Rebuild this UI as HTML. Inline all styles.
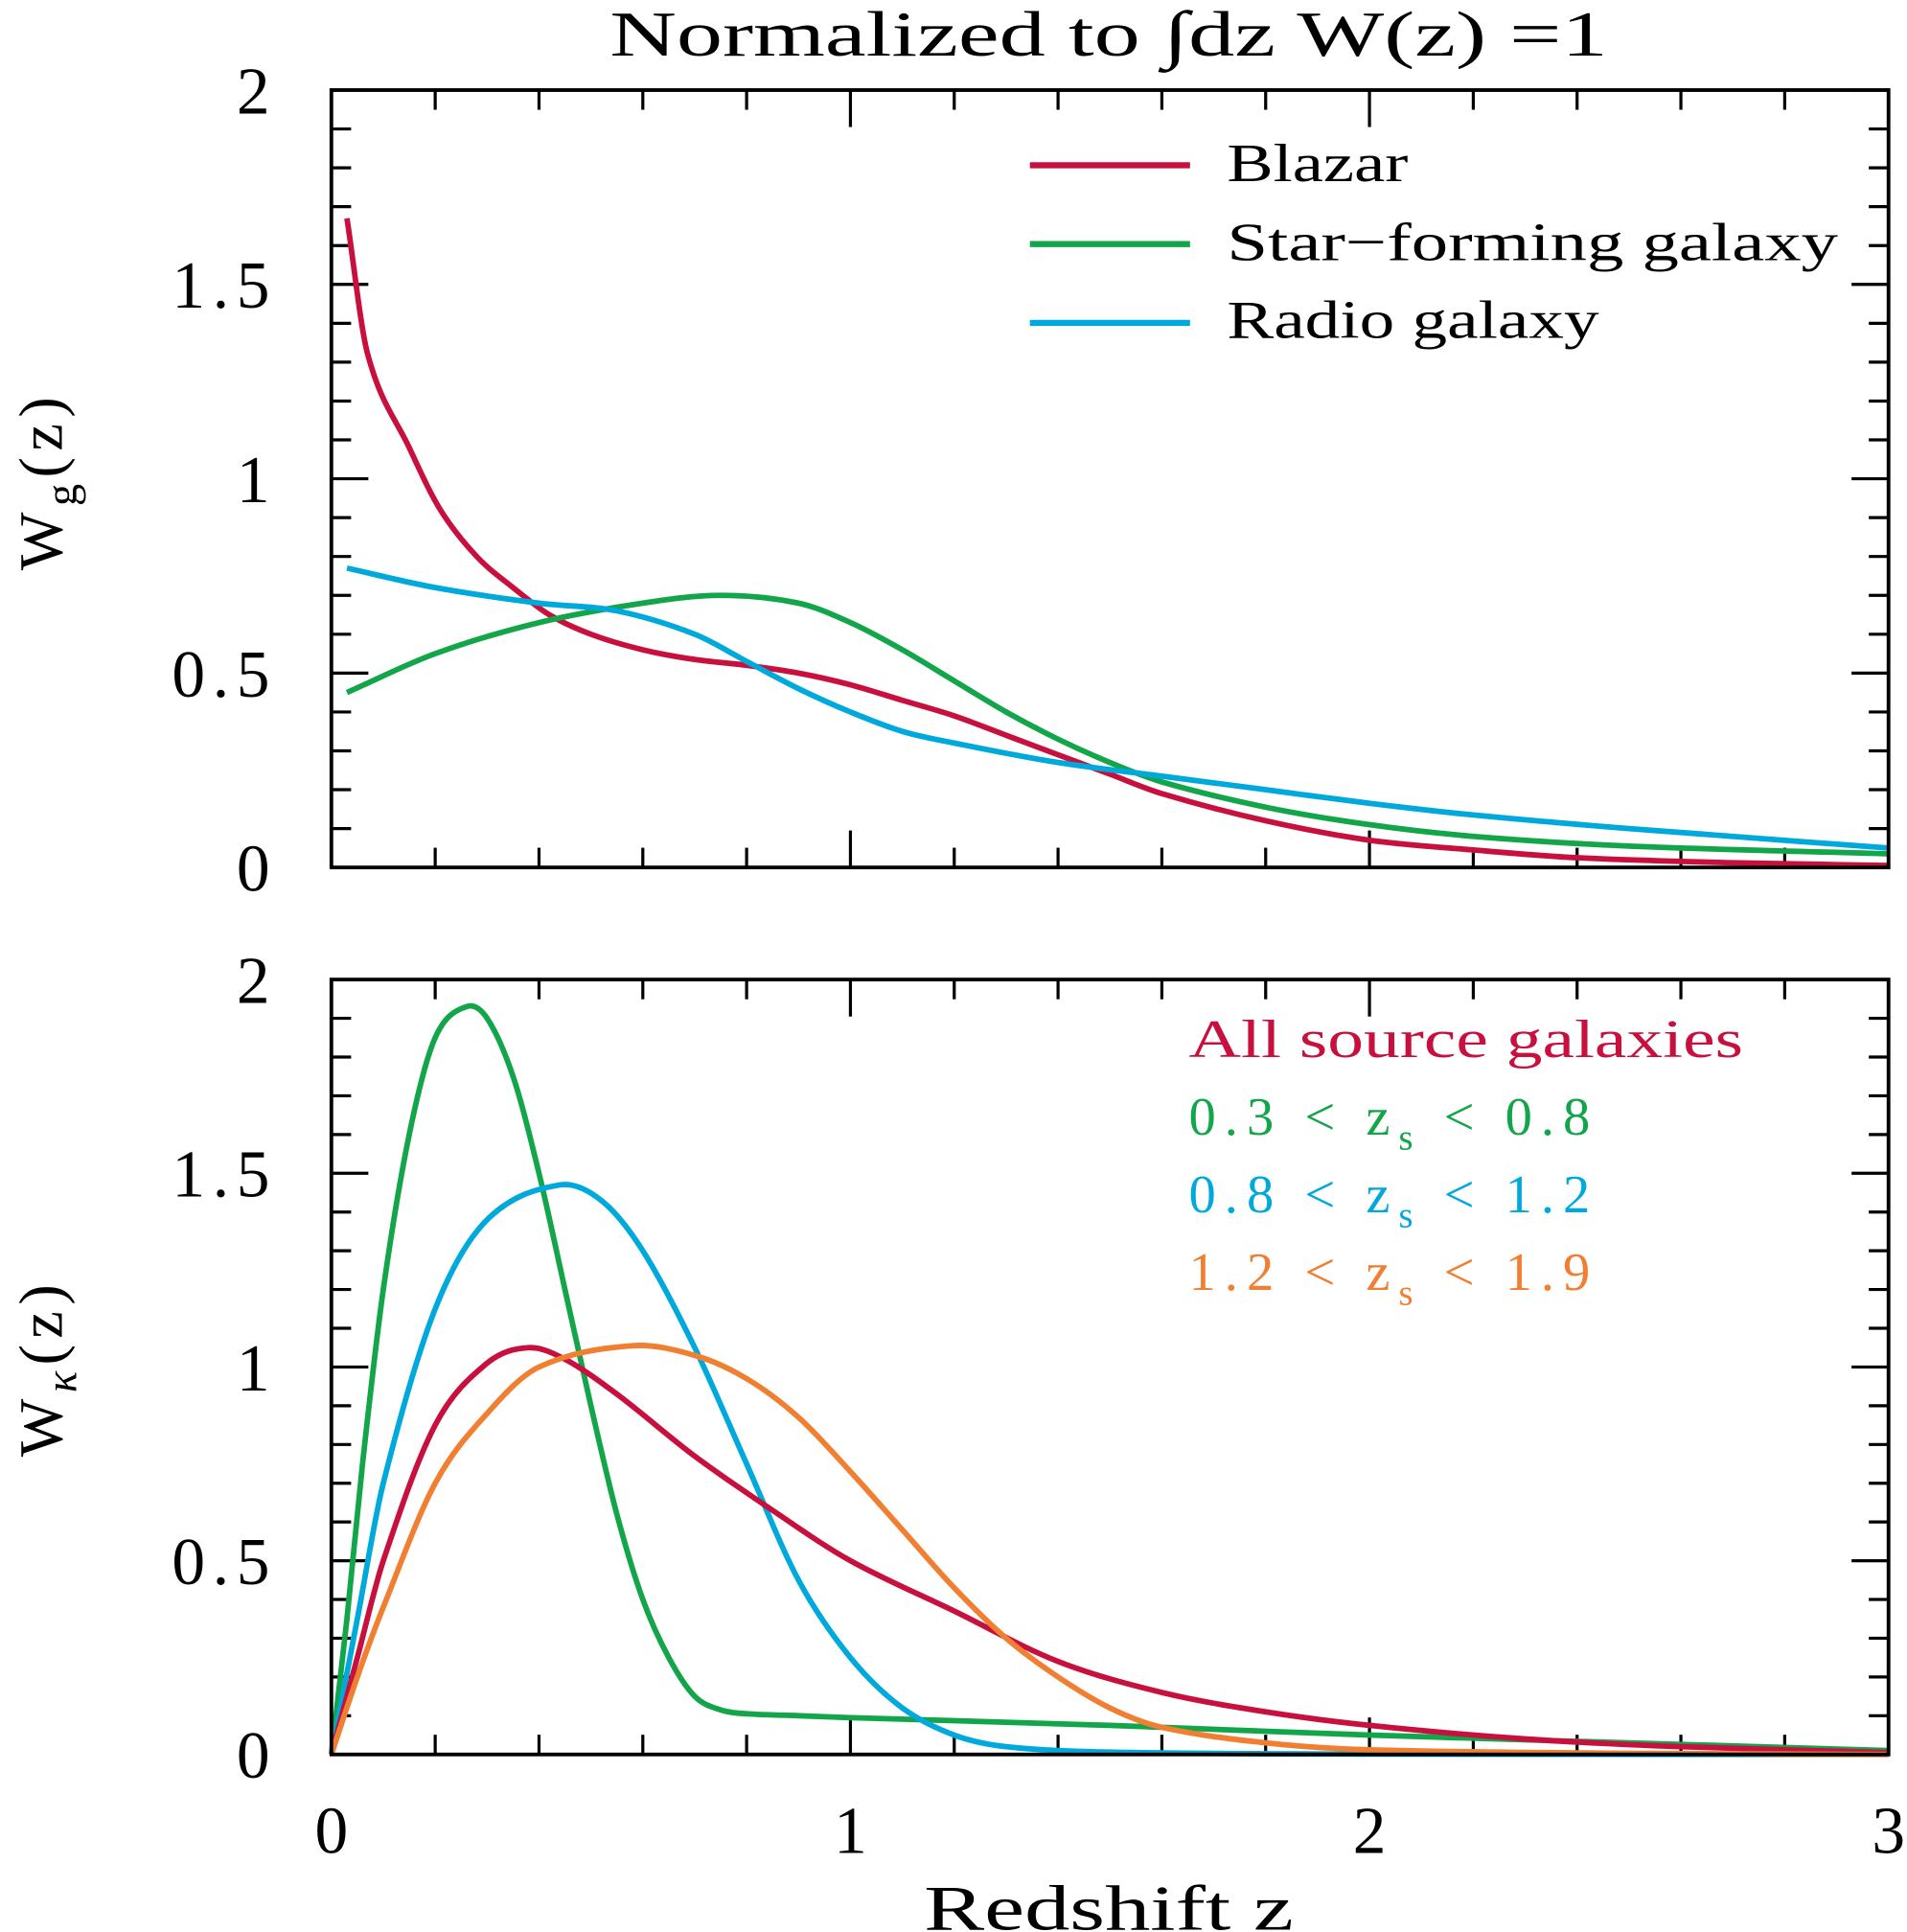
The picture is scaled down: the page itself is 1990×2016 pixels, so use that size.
<!DOCTYPE html>
<html><head><meta charset="utf-8"><style>
html,body{margin:0;padding:0;background:#fff;}
svg{display:block;}
text{font-family:"Liberation Serif",serif;fill:#000;}
</style></head><body>
<svg id="chart" width="1990" height="2016" viewBox="0 0 1548 1568" xmlns="http://www.w3.org/2000/svg">
<text x="495" y="45" font-size="52" textLength="810" lengthAdjust="spacingAndGlyphs">Normalized to ∫dz W(z) =1</text>
<g id="top"></g>
<g id="bot"></g>
<text x="750" y="1566" font-size="52" textLength="300" lengthAdjust="spacingAndGlyphs">Redshift z</text>
<text transform="translate(50,390) rotate(-90)" font-size="50" text-anchor="middle" letter-spacing="5">W<tspan font-size="36" dy="12">g</tspan><tspan dy="-12">(z)</tspan></text>
<text transform="translate(50,1110) rotate(-90)" font-size="50" text-anchor="middle" letter-spacing="5">W<tspan font-size="36" dy="12" font-style="italic">κ</tspan><tspan dy="-12">(z)</tspan></text>
<g>
<line x1="836" y1="134" x2="966" y2="134" stroke="#c8103e" stroke-width="5"/>
<text x="996" y="137" font-size="44" dominant-baseline="middle" textLength="147" lengthAdjust="spacingAndGlyphs">Blazar</text>
<line x1="836" y1="198" x2="966" y2="198" stroke="#13a54a" stroke-width="5"/>
<text x="996" y="201" font-size="44" dominant-baseline="middle" textLength="496" lengthAdjust="spacingAndGlyphs">Star−forming galaxy</text>
<line x1="836" y1="262" x2="966" y2="262" stroke="#00a9dc" stroke-width="5"/>
<text x="996" y="264" font-size="44" dominant-baseline="middle" textLength="302" lengthAdjust="spacingAndGlyphs">Radio galaxy</text>
</g>
<g font-size="44">
<text x="965" y="858" style="fill:#c8103e" textLength="450" lengthAdjust="spacingAndGlyphs">All source galaxies</text>
<text x="965" y="921" style="fill:#13a54a" letter-spacing="7">0.3 &lt; z<tspan font-size="30" dy="12">s</tspan><tspan dy="-12"> &lt; 0.8</tspan></text>
<text x="965" y="984" style="fill:#00a9dc" letter-spacing="7">0.8 &lt; z<tspan font-size="30" dy="12">s</tspan><tspan dy="-12"> &lt; 1.2</tspan></text>
<text x="965" y="1047" style="fill:#f07f32" letter-spacing="7">1.2 &lt; z<tspan font-size="30" dy="12">s</tspan><tspan dy="-12"> &lt; 1.9</tspan></text>
</g>
</svg>
<script>
const yTicks = [0, 0.5, 1, 1.5, 2];
const yTickLabels = ["0", "0.5", "1", "1.5", "2"];
const xTicks = [0, 1, 2, 3];
const xTickLabels = ["0", "1", "2", "3"];

const blazarZ = [0.03,0.07,0.15,0.21,0.28,0.35,0.42,0.5,0.6,0.7,0.8,0.9,1.0,1.1,1.2,1.3,1.4,1.5,1.6,1.8,2.0,2.2,2.4,2.7,3.0];
const blazarW = [1.67,1.32,1.08,0.92,0.8,0.72,0.65,0.6,0.56,0.535,0.52,0.5,0.47,0.43,0.39,0.34,0.29,0.24,0.19,0.12,0.07,0.045,0.025,0.012,0.005];
const sfgZ = [0.03,0.2,0.4,0.6,0.75,0.9,1.0,1.1,1.2,1.3,1.4,1.5,1.6,1.8,2.0,2.2,2.5,3.0];
const sfgW = [0.45,0.55,0.63,0.68,0.70,0.68,0.63,0.56,0.48,0.40,0.33,0.27,0.22,0.155,0.11,0.08,0.055,0.035];
const radioZ = [0.03,0.2,0.4,0.55,0.7,0.8,0.9,1.0,1.1,1.2,1.4,1.6,1.8,2.0,2.2,2.5,3.0];
const radioW = [0.77,0.72,0.68,0.66,0.6,0.53,0.46,0.4,0.35,0.32,0.27,0.235,0.2,0.165,0.135,0.1,0.05];

const allZ = [0,0.05,0.1,0.2,0.3,0.38,0.45,0.55,0.7,0.85,1.0,1.2,1.4,1.6,1.8,2.0,2.3,2.6,3.0];
const allW = [0,0.25,0.5,0.85,1.01,1.05,1.02,0.93,0.77,0.63,0.5,0.37,0.24,0.16,0.11,0.075,0.04,0.02,0.005];
const bin1Z = [0,0.03,0.06,0.1,0.15,0.2,0.26,0.3,0.35,0.4,0.45,0.5,0.55,0.6,0.65,0.7,0.75,0.8,0.9,1.0,1.5,2.0,2.5,3.0];
const bin1W = [0,0.35,0.75,1.2,1.6,1.85,1.93,1.9,1.75,1.5,1.2,0.9,0.62,0.4,0.25,0.15,0.115,0.105,0.1,0.095,0.075,0.05,0.03,0.01];
const bin2Z = [0,0.05,0.1,0.2,0.3,0.44,0.52,0.6,0.7,0.8,0.9,1.0,1.1,1.2,1.3,1.5,2.0,3.0];
const bin2W = [0,0.35,0.7,1.15,1.38,1.47,1.43,1.3,1.05,0.75,0.45,0.25,0.12,0.05,0.02,0.006,0.001,0];
const bin3Z = [0,0.05,0.1,0.2,0.3,0.4,0.58,0.7,0.8,0.9,1.0,1.1,1.2,1.3,1.4,1.5,1.6,1.8,2.0,2.5,3.0];
const bin3W = [0,0.2,0.38,0.7,0.88,1.0,1.055,1.03,0.97,0.87,0.73,0.58,0.43,0.3,0.2,0.12,0.07,0.03,0.012,0.003,0];

const NS = "http://www.w3.org/2000/svg";
const X0 = 269, X1 = 1533;
function xs(z){ return X0 + (X1 - X0) * z / 3; }
function mk(tag, attrs, parent){ const e = document.createElementNS(NS, tag); for (const k in attrs) e.setAttribute(k, attrs[k]); parent.appendChild(e); return e; }

function panel(g, top, bottom, series, showX){
  const ys = v => bottom - (bottom - top) * v / 2;
  for (let i = 0; i <= 20; i++) {
    const v = i / 10, y = ys(v), L = (i % 5 === 0) ? 30 : 16;
    mk("line", {x1:X0, y1:y, x2:X0+L, y2:y, stroke:"#000", "stroke-width":2.5}, g);
    mk("line", {x1:X1, y1:y, x2:X1-L, y2:y, stroke:"#000", "stroke-width":2.5}, g);
  }
  for (let i = 0; i <= 15; i++) {
    const z = i * 0.2, x = xs(z), L = (i % 5 === 0) ? 30 : 16;
    mk("line", {x1:x, y1:bottom, x2:x, y2:bottom-L, stroke:"#000", "stroke-width":2.5}, g);
    mk("line", {x1:x, y1:top, x2:x, y2:top+L, stroke:"#000", "stroke-width":2.5}, g);
  }
  yTicks.forEach((v, i) => {
    const t = mk("text", {x:225, y:ys(v)+19, "font-size":54, "text-anchor":"end", "letter-spacing":6}, g);
    
    
    t.textContent = yTickLabels[i];
  });
  if (showX) xTicks.forEach((v, i) => {
    const t = mk("text", {x:xs(v), y:bottom+80, "font-size":54, "text-anchor":"middle"}, g);
    
    
    t.textContent = xTickLabels[i];
  });
  series.forEach(s => {
    const P = s.z.map((z, i) => [xs(z), ys(s.w[i])]);
    const n = P.length, m = [];
    for (let i = 0; i < n; i++) {
      const a = P[Math.max(0, i-1)], b = P[Math.min(n-1, i+1)];
      m.push((b[1]-a[1]) / (b[0]-a[0]));
    }
    let d = "M" + P[0][0] + "," + P[0][1];
    for (let i = 0; i < n - 1; i++) {
      const h = (P[i+1][0] - P[i][0]) / 3;
      const c1 = [P[i][0] + h, P[i][1] + m[i]*h];
      const c2 = [P[i+1][0] - h, P[i+1][1] - m[i+1]*h];
      d += " C" + c1 + " " + c2 + " " + P[i+1];
    }
    const path = mk("path", {d:d, fill:"none", stroke:s.c, "stroke-width":4.5, "stroke-linejoin":"round"}, g);
    
    
  });
  const frame = mk("rect", {x:X0, y:top, width:X1-X0, height:bottom-top, fill:"none", stroke:"#000", "stroke-width":3}, g);
  
  
}

panel(document.getElementById("top"), 73, 704, [
  {name:"blazar-line", z:blazarZ, w:blazarW, c:"#c8103e"},
  {name:"star-forming-line", z:sfgZ, w:sfgW, c:"#13a54a"},
  {name:"radio-line", z:radioZ, w:radioW, c:"#00a9dc"}
], false);
panel(document.getElementById("bot"), 795, 1424, [
  {name:"bin-1-line", z:bin1Z, w:bin1W, c:"#13a54a"},
  {name:"bin-2-line", z:bin2Z, w:bin2W, c:"#00a9dc"},
  {name:"all-sources-line", z:allZ, w:allW, c:"#c8103e"},
  {name:"bin-3-line", z:bin3Z, w:bin3W, c:"#f07f32"}
], true);
</script>
</body></html>
